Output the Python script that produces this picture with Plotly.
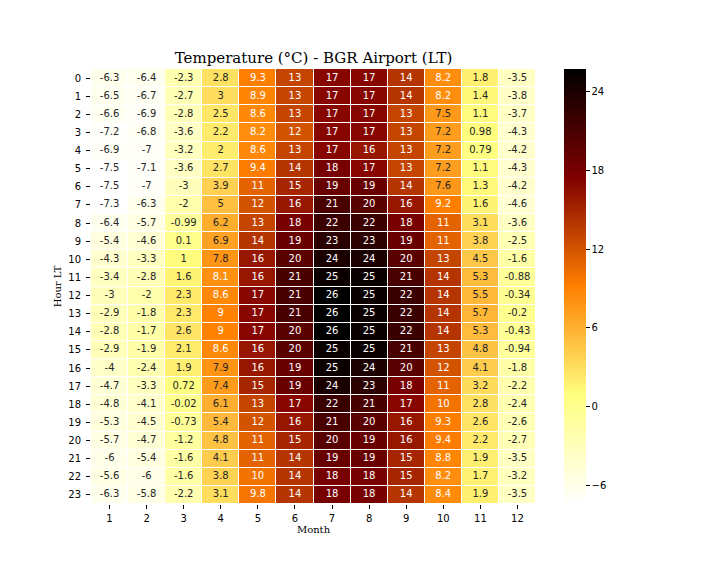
import plotly.graph_objects as go

months = [1, 2, 3, 4, 5, 6, 7, 8, 9, 10, 11, 12]
hours = list(range(24))
temps = [
    [-6.3, -6.4, -2.3, 2.8, 9.3, 13, 17, 17, 14, 8.2, 1.8, -3.5],
    [-6.5, -6.7, -2.7, 3, 8.9, 13, 17, 17, 14, 8.2, 1.4, -3.8],
    [-6.6, -6.9, -2.8, 2.5, 8.6, 13, 17, 17, 13, 7.5, 1.1, -3.7],
    [-7.2, -6.8, -3.6, 2.2, 8.2, 12, 17, 17, 13, 7.2, 0.98, -4.3],
    [-6.9, -7, -3.2, 2, 8.6, 13, 17, 16, 13, 7.2, 0.79, -4.2],
    [-7.5, -7.1, -3.6, 2.7, 9.4, 14, 18, 17, 13, 7.2, 1.1, -4.3],
    [-7.5, -7, -3, 3.9, 11, 15, 19, 19, 14, 7.6, 1.3, -4.2],
    [-7.3, -6.3, -2, 5, 12, 16, 21, 20, 16, 9.2, 1.6, -4.6],
    [-6.4, -5.7, -0.99, 6.2, 13, 18, 22, 22, 18, 11, 3.1, -3.6],
    [-5.4, -4.6, 0.1, 6.9, 14, 19, 23, 23, 19, 11, 3.8, -2.5],
    [-4.3, -3.3, 1, 7.8, 16, 20, 24, 24, 20, 13, 4.5, -1.6],
    [-3.4, -2.8, 1.6, 8.1, 16, 21, 25, 25, 21, 14, 5.3, -0.88],
    [-3, -2, 2.3, 8.6, 17, 21, 26, 25, 22, 14, 5.5, -0.34],
    [-2.9, -1.8, 2.3, 9, 17, 21, 26, 25, 22, 14, 5.7, -0.2],
    [-2.8, -1.7, 2.6, 9, 17, 20, 26, 25, 22, 14, 5.3, -0.43],
    [-2.9, -1.9, 2.1, 8.6, 16, 20, 25, 25, 21, 13, 4.8, -0.94],
    [-4, -2.4, 1.9, 7.9, 16, 19, 25, 24, 20, 12, 4.1, -1.8],
    [-4.7, -3.3, 0.72, 7.4, 15, 19, 24, 23, 18, 11, 3.2, -2.2],
    [-4.8, -4.1, -0.02, 6.1, 13, 17, 22, 21, 17, 10, 2.8, -2.4],
    [-5.3, -4.5, -0.73, 5.4, 12, 16, 21, 20, 16, 9.3, 2.6, -2.6],
    [-5.7, -4.7, -1.2, 4.8, 11, 15, 20, 19, 16, 9.4, 2.2, -2.7],
    [-6, -5.4, -1.6, 4.1, 11, 14, 19, 19, 15, 8.8, 1.9, -3.5],
    [-5.6, -6, -1.6, 3.8, 10, 14, 18, 18, 15, 8.2, 1.7, -3.2],
    [-6.3, -5.8, -2.2, 3.1, 9.8, 14, 18, 18, 14, 8.4, 1.9, -3.5],
]
cbar_ticks = [-6, 0, 6, 12, 18, 24]
cbar_labels = ["\u22126", "0", "6", "12", "18", "24"]

zmin, zmax = -7.45, 25.74

# afmhot_r colour scale
colorscale = [
    [0.0, "rgb(255,255,255)"],
    [0.25, "rgb(255,255,128)"],
    [0.5, "rgb(255,128,0)"],
    [0.75, "rgb(128,0,0)"],
    [1.0, "rgb(0,0,0)"],
]

fig = go.Figure()
fig.add_trace(go.Heatmap(
    z=temps, x=months, y=hours,
    colorscale=colorscale, zmin=zmin, zmax=zmax,
    xgap=1, ygap=1, hoverinfo="skip",
    colorbar=dict(
        x=1.063, xanchor="left", xpad=0, ypad=0,
        y=0.5, yanchor="middle",
        thickness=22, lenmode="pixels", len=435,
        outlinewidth=0,
        tickvals=cbar_ticks, ticktext=cbar_labels,
        ticks="outside", ticklen=4, tickcolor="#000",
        tickfont=dict(family="DejaVu Sans", size=10, color="#000"),
    ),
))

tx, ty, tt, tc = [], [], [], []
for i, h in enumerate(hours):
    for j, m in enumerate(months):
        v = temps[i][j]
        tx.append(m)
        ty.append(h)
        tt.append(format(v, ".2g"))
        tc.append("#ffffff" if v > 8.0 else "#262626")

fig.add_trace(go.Scatter(
    x=tx, y=ty, text=tt, mode="text",
    textfont=dict(family="DejaVu Sans", size=10, color=tc),
    hoverinfo="skip", showlegend=False,
))

fig.update_layout(
    width=720, height=576,
    margin=dict(l=83, r=192, t=61, b=80),
    paper_bgcolor="white", plot_bgcolor="white",
    title=dict(
        text="Temperature (\u00b0C) - BGR Airport (LT)",
        font=dict(family="DejaVu Serif", size=15, color="#000"),
        x=0.5, xref="paper", y=1 - 50 / 576, yref="container", yanchor="middle",
    ),
    xaxis=dict(
        range=[0.5, 12.5], tickvals=months, ticktext=[str(m) for m in months],
        ticks="outside", ticklen=4, tickcolor="#000", ticklabelstandoff=1,
        tickfont=dict(family="DejaVu Sans", size=10, color="#000"),
        showgrid=False, zeroline=False, showline=False,
        title=dict(text="Month", font=dict(family="DejaVu Serif", size=10, color="#000"), standoff=2),
    ),
    yaxis=dict(
        range=[23.5, -0.5], tickvals=hours, ticktext=[str(h) for h in hours],
        ticks="outside", ticklen=4, tickcolor="#000", ticklabelstandoff=3,
        tickfont=dict(family="DejaVu Sans", size=10, color="#000"),
        showgrid=False, zeroline=False, showline=False,
        title=dict(text="Hour LT", font=dict(family="DejaVu Serif", size=10, color="#000"), standoff=4),
    ),
    showlegend=False,
)

fig.write_html("out.html")
